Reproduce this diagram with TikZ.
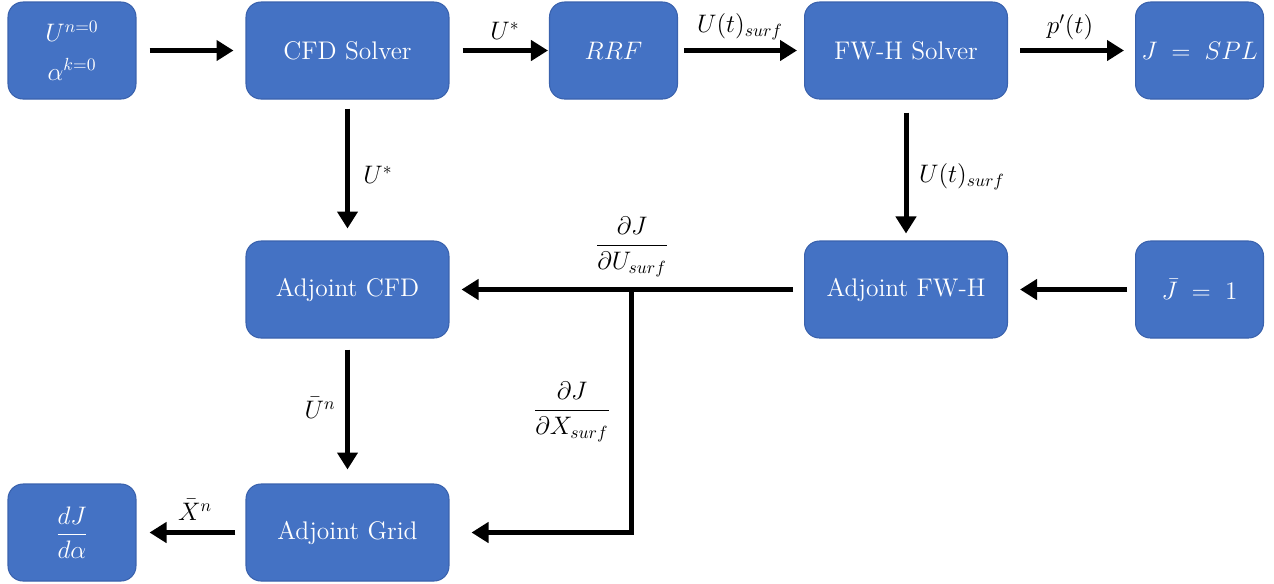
\documentclass[tikz,border=0pt]{standalone}
\usepackage{amsmath}
\usetikzlibrary{arrows.meta}
\definecolor{boxblue}{HTML}{4472C4}
\definecolor{boxedge}{HTML}{3A62AD}
\begin{document}
\begin{tikzpicture}[x=0.02cm,y=-0.02cm,
  blk/.style={draw=boxedge,line width=0.6pt,fill=boxblue,rounded corners=0.3cm,text=white,
    minimum height=1.94cm,align=center,inner sep=0pt,font=\fontsize{14.5}{19}\selectfont},
  small/.style={blk,minimum width=2.56cm},
  wide/.style={blk,minimum width=4.06cm},
  arr/.style={line width=0.1cm,-{Triangle[length=0.34cm,width=0.4cm]}},
  lab/.style={font=\fontsize{14.5}{17}\selectfont,inner sep=1pt}]
\useasboundingbox (0,0) rectangle (1274,583);
% nodes
\node[small] (init) at (72,50.5) {$U^{n=0}$\\[3pt]$\alpha^{k=0}$};
\node[wide]  (cfd)  at (347.5,50.5) {CFD Solver};
\node[small] (rrf)  at (613.5,50.5) {$RRF$};
\node[wide]  (fwh)  at (906,50.5) {FW-H Solver};
\node[small] (spl)  at (1199.5,50.5) {$J\;=\;SPL$};
\node[wide]  (acfd) at (347.5,289.5) {Adjoint CFD};
\node[wide]  (afwh) at (906,289.5) {Adjoint FW-H};
\node[small] (jbar) at (1199.5,289.5) {$\bar{J}\;=\;1$};
\node[small] (djda) at (72,532.5) {$\dfrac{dJ}{d\alpha}$};
\node[wide]  (agrid) at (347.5,532.5) {Adjoint Grid};
% connectors
\draw[arr,shorten <=0.26cm,shorten >=0.24cm] (init) -- (cfd);
\draw[arr,shorten <=0.26cm,shorten >=0.02cm] (cfd) -- (rrf);
\draw[arr,shorten <=0.12cm,shorten >=0.14cm] (rrf) -- (fwh);
\draw[arr,shorten <=0.24cm,shorten >=0.22cm] (fwh) -- (spl);
\draw[arr,shorten <=0.18cm,shorten >=0.24cm] (cfd) -- (acfd);
\draw[arr,shorten <=0.26cm,shorten >=0.14cm] (fwh) -- (afwh);
\draw[arr,shorten <=0.16cm,shorten >=0.24cm] (jbar) -- (afwh);
\draw[arr,shorten <=0.22cm,shorten >=0.24cm] (afwh) -- (acfd);
\draw[arr,shorten <=0.22cm,shorten >=0.28cm] (acfd) -- (agrid);
\draw[arr,shorten <=0.20cm,shorten >=0.26cm] (agrid) -- (djda);
\coordinate (br) at (631,289.5);
\coordinate (bc) at (631,532.5);
\draw[arr,shorten >=0.44cm] ([yshift=0.05cm]br) -- (bc) -- (agrid.east);
% labels
\node[lab] (l1) at (505,31) {$U^{*}$};
\node[lab] (l2) at (740,27) {$U(t)_{surf}$};
\node[lab] (l3) at (1070,27) {$p'(t)$};
\node[lab] (l4) at (378,175) {$U^{*}$};
\node[lab] (l5) at (962,177) {$U(t)_{surf}$};
\node[lab] (l6) at (632,247) {$\dfrac{\partial J}{\partial U_{surf}}$};
\node[lab] (l7) at (572,412) {$\dfrac{\partial J}{\partial X_{surf}}$};
\node[lab] (l8) at (320,408) {$\bar{U}^{n}$};
\node[lab] (l9) at (195,510) {$\bar{X}^{n}$};
\end{tikzpicture}
\end{document}
